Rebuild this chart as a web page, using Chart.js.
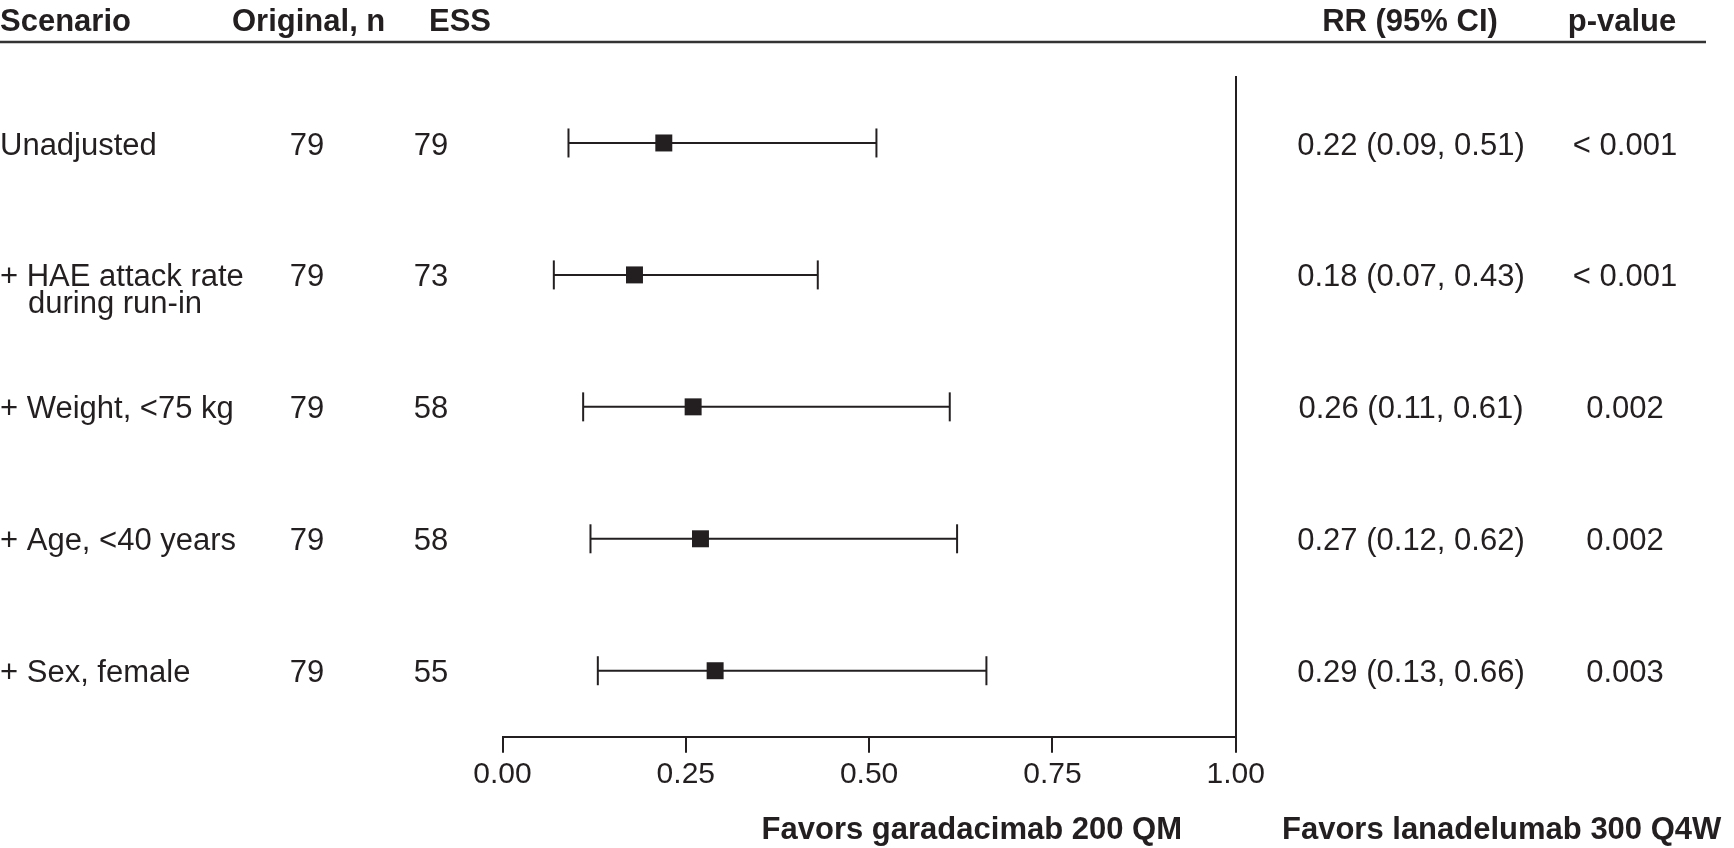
<!DOCTYPE html>
<html>
<head>
<meta charset="utf-8">
<script src="https://cdn.jsdelivr.net/npm/chart.js@4/dist/chart.umd.min.js"></script>
<style>
  html, body { margin: 0; padding: 0; background: #ffffff; }
  #wrap { width: 1734px; height: 848px; }
</style>
</head>
<body>
<div id="wrap"><canvas id="c" width="1734" height="848"></canvas></div>
<script>
// ---- data ----
const scenarios = [
  ["Unadjusted"],
  ["+ HAE attack rate", "during run-in"],
  ["+ Weight, <75 kg"],
  ["+ Age, <40 years"],
  ["+ Sex, female"]
];
const originalN = [79, 79, 79, 79, 79];
const ess = [79, 73, 58, 58, 55];
const rr = [0.22, 0.18, 0.26, 0.27, 0.29];
const ciLow = [0.09, 0.07, 0.11, 0.12, 0.13];
const ciHigh = [0.51, 0.43, 0.61, 0.62, 0.66];
const pValues = ["< 0.001", "< 0.001", "0.002", "0.002", "0.003"];
const xTicks = [0, 0.25, 0.5, 0.75, 1.0];
const headers = ["Scenario", "Original, n", "ESS", "RR (95% CI)", "p-value"];
const favorLeft = "Favors garadacimab 200 QM";
const favorRight = "Favors lanadelumab 300 Q4W";

// ---- style ----
const INK = "#231f20";
const FAMILY = '"Liberation Sans", Arial, Helvetica, sans-serif';

const categoryLabels = scenarios.map(s => s.join(" "));

const ciDatasets = rr.map((v, i) => ({
  label: "ci" + i,
  data: [{ x: ciLow[i], y: categoryLabels[i] }, { x: ciHigh[i], y: categoryLabels[i] }],
  showLine: true,
  borderColor: INK,
  borderWidth: 2,
  pointStyle: "line",
  rotation: 90,
  pointRadius: 14.5,
  pointBorderWidth: 2,
  pointBorderColor: INK,
  pointBackgroundColor: INK,
  order: 1,
  clip: false
}));

const pointDataset = {
  label: "RR",
  data: rr.map((v, i) => ({ x: v, y: categoryLabels[i] })),
  showLine: false,
  pointStyle: "rect",
  pointRadius: 12,
  pointBorderWidth: 0,
  pointBackgroundColor: INK,
  pointBorderColor: INK,
  order: 0,
  clip: false
};

const tablePlugin = {
  id: "tableText",
  afterDraw(chart) {
    const ctx = chart.ctx;
    const yS = chart.scales.y;
    ctx.save();
    ctx.fillStyle = INK;

    // header row
    ctx.font = "bold 31px " + FAMILY;
    ctx.textBaseline = "alphabetic";
    ctx.textAlign = "left";
    ctx.fillText(headers[0], 0, 31);
    ctx.fillText(headers[1], 232, 31);
    ctx.fillText(headers[2], 429, 31);
    ctx.textAlign = "center";
    ctx.fillText(headers[3], 1410, 31);
    ctx.fillText(headers[4], 1622, 31);

    // header rule
    ctx.strokeStyle = "#333333";
    ctx.lineWidth = 2.5;
    ctx.beginPath();
    ctx.moveTo(0, 42);
    ctx.lineTo(1706, 42);
    ctx.stroke();

    // rows
    ctx.font = "31px " + FAMILY;
    ctx.textBaseline = "middle";
    scenarios.forEach((lines, i) => {
      const py = yS.getPixelForValue(i) + 3;
      ctx.textAlign = "left";
      lines.forEach((t, k) => {
        ctx.fillText(t, k === 0 ? 0 : 28, py + k * 27);
      });
      ctx.textAlign = "center";
      ctx.fillText(String(originalN[i]), 307, py);
      ctx.fillText(String(ess[i]), 431, py);
      const rrText = rr[i].toFixed(2) + " (" + ciLow[i].toFixed(2) + ", " + ciHigh[i].toFixed(2) + ")";
      ctx.fillText(rrText, 1411, py);
      ctx.fillText(pValues[i], 1625, py);
    });

    // favors labels
    ctx.font = "bold 31px " + FAMILY;
    ctx.textBaseline = "alphabetic";
    ctx.textAlign = "right";
    ctx.fillText(favorLeft, 1182, 839);
    ctx.textAlign = "left";
    ctx.fillText(favorRight, 1282, 839);
    ctx.restore();
  }
};

new Chart(document.getElementById("c"), {
  type: "scatter",
  data: { labels: categoryLabels, datasets: [pointDataset, ...ciDatasets] },
  options: {
    responsive: false,
    animation: false,
    events: [],
    layout: { padding: { left: 502.5, right: 498.3, top: 77, bottom: 0 } },
    plugins: { legend: { display: false }, tooltip: { enabled: false } },
    scales: {
      x: {
        type: "linear",
        position: "bottom",
        min: 0,
        max: 1,
        afterBuildTicks: (axis) => { axis.ticks = xTicks.map(v => ({ value: v })); },
        afterFit: (axis) => { axis.height = 111.3; },
        ticks: {
          color: INK,
          font: { family: FAMILY, size: 30 },
          padding: 4,
          maxRotation: 0,
          autoSkip: false,
          callback: (v) => Number(v).toFixed(2)
        },
        grid: {
          display: true,
          drawOnChartArea: false,
          drawTicks: true,
          tickLength: 16,
          color: INK,
          lineWidth: 2
        },
        border: { display: true, color: INK, width: 2 }
      },
      y: {
        type: "category",
        position: "right",
        labels: categoryLabels,
        offset: true,
        afterFit: (axis) => { axis.width = 0; },
        ticks: { display: false },
        grid: { display: false, drawTicks: false },
        border: { display: true, color: INK, width: 2 }
      }
    }
  },
  plugins: [tablePlugin]
});
</script>
</body>
</html>
